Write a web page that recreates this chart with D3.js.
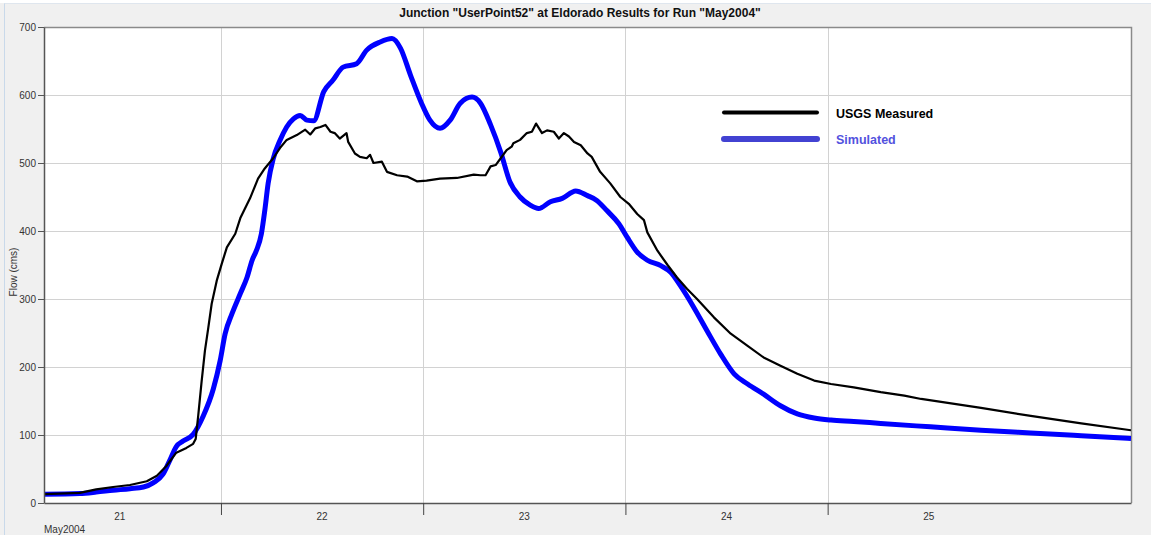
<!DOCTYPE html>
<html>
<head>
<meta charset="utf-8">
<script src="https://cdn.jsdelivr.net/npm/d3@7"></script>
<style>
  body { margin: 0; background: #f0f0f0; }
  svg { display: block; }
  text { font-family: "Liberation Sans", Arial, sans-serif; }
</style>
</head>
<body>
<svg id="chart" width="1151" height="535"></svg>
<script>
// Chart text
const chartTitle = 'Junction "UserPoint52" at Eldorado Results for Run "May2004"';
const yAxisTitle = "Flow (cms)";
const xAxisCaption = "May2004";

// Axis ticks
const flowTicks = [0, 100, 200, 300, 400, 500, 600, 700];
const dayLabels = [21, 22, 23, 24, 25];
const dayBoundaries = [22, 23, 24, 25, 26];

// Series: hours after 2004-05-21 00:00, and flow (cms)
const measuredHours = [3.0, 7.25, 9.2, 11.2, 13.2, 15.2, 16.4, 17.5, 18.7, 19.9, 20.7, 21.0, 21.3, 21.7, 22.1, 22.5, 22.9, 23.5, 24.1, 24.7, 25.7,
  26.3, 27.45, 28.4, 29.2, 30.2, 31.0, 31.8, 33.0, 34.0, 34.6, 35.2, 35.8, 36.4, 37.0, 37.5, 38.1, 38.9, 39.1, 39.9, 40.5, 41.3, 41.7, 42.1, 43.1, 43.7, 44.9, 46.1, 47.25,
  48.4, 50.0, 52.0, 54.0, 54.8, 55.4, 56.0, 56.6, 57.2, 57.9, 58.5, 58.7, 59.5, 60.3, 60.9, 61.4, 62.1, 62.7, 63.5, 64.1, 64.7, 65.3, 65.9, 66.7, 67.5, 68.0,
  69.0, 70.2, 71.4, 72.4, 73.4, 74.2, 74.6, 75.8, 77.0, 78.1, 79.3, 80.5, 82.5, 84.5, 86.5, 88.4, 90.4, 92.4, 94.4, 96.4, 99.1, 102.3, 105.1, 107.1, 114.2, 120.1, 126.1, 132.0];
const measuredFlow = [13, 15, 20, 23.5, 26.5, 32, 40, 54, 74, 81, 87, 94, 128, 178, 224, 258, 293, 327, 352, 376, 396,
  419, 448, 477, 492, 507, 522, 534, 541, 549, 542, 551, 553, 556, 546, 544, 536, 544, 531, 514, 509, 507, 512, 500, 502, 487, 482, 480, 473,
  474, 477, 478, 483, 482, 482, 495, 497, 507, 519, 524, 529, 534, 544, 546, 558, 544, 548, 546, 536, 544, 539, 531, 526, 514, 509,
  487, 470, 450, 440, 425, 416, 398, 371, 350, 332, 315, 300, 273, 249, 231, 214, 202, 190, 180, 175, 170, 163, 158, 153, 140, 128, 117, 107];

const simulatedHours = [3.0, 7.25, 9.2, 11.2, 13.2, 14.8, 16.0, 17.1, 17.9, 18.7, 19.5, 20.7, 21.9, 23.1, 23.9, 24.5, 25.3, 26.3, 27.1, 27.7,
  28.2, 28.8, 29.2, 29.6, 30.2, 31.0, 31.8, 32.6, 33.4, 34.2, 35.0, 36.2, 37.3, 38.5, 40.1, 41.3, 42.9, 44.3, 45.3, 46.5,
  47.8, 48.8, 50.0, 51.2, 52.4, 53.8, 54.8, 56.0, 57.2, 58.3, 59.5, 60.7, 61.7, 63.1, 64.5, 66.1, 67.5, 68.6, 69.8, 71.2,
  72.2, 73.4, 74.6, 76.2, 77.4, 78.5, 80.1, 81.7, 83.3, 84.9, 86.5, 88.4, 90.4, 92.4, 94.4, 96.4, 99.1, 102.3, 108.2, 114.2,
  120.1, 126.1, 132.0];
const simulatedFlow = [13, 14, 16, 18.7, 21, 23.5, 30, 42, 62, 83, 91, 101, 128, 168, 209, 249, 278, 308, 332, 357,
  371, 396, 430, 470, 506, 533, 553, 565, 570, 563, 562, 605, 622, 641, 646, 666, 678, 683, 669, 629,
  588, 563, 551, 563, 588, 597, 588, 556, 516, 472, 450, 438, 433, 443, 448, 459, 452, 445, 430, 411,
  391, 369, 357, 349, 339, 320, 288, 253, 219, 190, 175, 160, 143, 131, 125, 122, 120, 117, 112, 107,
  103, 99, 95];

const seriesNames = ["USGS Measured", "Simulated"];

const base = Date.UTC(2004, 4, 21, 0, 0);
const toDate = h => new Date(base + h * 3600e3);

const svg = d3.select("#chart");
const W = 1151, H = 535;
const plot = { left: 44, right: 1131, top: 27, bottom: 503 };

// Panel frame
svg.append("rect").attr("x", 0).attr("y", 0).attr("width", W).attr("height", 3).attr("fill", "#ffffff");
svg.append("line").attr("x1", 4.5).attr("x2", 4.5).attr("y1", 3).attr("y2", H)
  .attr("stroke", "#c9d9ea").attr("stroke-width", 1);
svg.append("line").attr("x1", 4.5).attr("x2", W).attr("y1", 3.5).attr("y2", 3.5)
  .attr("stroke", "#dfe6ee").attr("stroke-width", 1);

// Title
svg.append("text")
  .attr("x", 580).attr("y", 17)
  .attr("text-anchor", "middle")
  .attr("font-size", 12).attr("font-weight", "bold").attr("fill", "#111")
  .text(chartTitle);

// Scales
const x = d3.scaleUtc()
  .domain([toDate(3), toDate(132)])
  .range([plot.left, plot.right]);
const y = d3.scaleLinear()
  .domain([0, 700])
  .range([plot.bottom, plot.top]);

// Plot background
svg.append("rect")
  .attr("x", plot.left).attr("y", plot.top)
  .attr("width", plot.right - plot.left).attr("height", plot.bottom - plot.top)
  .attr("fill", "#ffffff");

// Grid
const grid = svg.append("g").attr("stroke", "#d2d2d2").attr("stroke-width", 1);
grid.selectAll("line.h").data(flowTicks.slice(1, -1)).join("line")
  .attr("x1", plot.left).attr("x2", plot.right)
  .attr("y1", d => Math.round(y(d)) + 0.5).attr("y2", d => Math.round(y(d)) + 0.5);
grid.selectAll("line.v").data(dayBoundaries.slice(0, -1)).join("line")
  .attr("x1", d => Math.round(x(toDate((d - 21) * 24))) + 0.5)
  .attr("x2", d => Math.round(x(toDate((d - 21) * 24))) + 0.5)
  .attr("y1", plot.top).attr("y2", plot.bottom);

// Plot border (top and right)
svg.append("path")
  .attr("d", `M${plot.left},${plot.top + 0.5}H${plot.right + 0.5}V${plot.bottom}`)
  .attr("fill", "none").attr("stroke", "#8a8a8a").attr("stroke-width", 1.5);

// Series
const measured = measuredHours.map((h, i) => ({ t: toDate(h), v: measuredFlow[i] }));
const simulated = simulatedHours.map((h, i) => ({ t: toDate(h), v: simulatedFlow[i] }));

svg.append("clipPath").attr("id", "plotClip").append("rect")
  .attr("x", plot.left).attr("y", plot.top)
  .attr("width", plot.right - plot.left).attr("height", plot.bottom - plot.top);

const lines = svg.append("g").attr("clip-path", "url(#plotClip)");

lines.append("path")
  .datum(simulated)
  .attr("fill", "none").attr("stroke", "#0000ff").attr("stroke-width", 5)
  .attr("stroke-linejoin", "round")
  .attr("d", d3.line().x(d => x(d.t)).y(d => y(d.v)).curve(d3.curveMonotoneX));

lines.append("path")
  .datum(measured)
  .attr("fill", "none").attr("stroke", "#000000").attr("stroke-width", 2.2)
  .attr("stroke-linejoin", "round")
  .attr("d", d3.line().x(d => x(d.t)).y(d => y(d.v)));

// Y axis
const yAxis = svg.append("g")
  .attr("transform", `translate(${plot.left},0)`)
  .call(d3.axisLeft(y).tickValues(flowTicks).tickSize(6).tickPadding(2).tickSizeOuter(0));
yAxis.select(".domain").attr("stroke", "#555").attr("stroke-width", 1.5);
yAxis.selectAll(".tick line").attr("stroke", "#555");
yAxis.selectAll(".tick text").attr("font-size", 10).attr("fill", "#333")
  .attr("font-family", "'Liberation Sans', Arial, sans-serif");

svg.append("text")
  .attr("transform", "translate(17,272) rotate(-90)")
  .attr("text-anchor", "middle")
  .attr("font-size", 10).attr("fill", "#333")
  .text(yAxisTitle);

// X axis: day boundary ticks, day labels at midday
const xAxis = svg.append("g")
  .attr("transform", `translate(0,${plot.bottom})`)
  .call(d3.axisBottom(x)
    .tickValues(dayBoundaries.slice(0, -1).map(d => toDate((d - 21) * 24)))
    .tickSize(12).tickFormat("").tickSizeOuter(0));
xAxis.select(".domain").attr("stroke", "#555").attr("stroke-width", 1.5);
xAxis.selectAll(".tick line").attr("stroke", "#444");

svg.append("g").selectAll("text").data(dayLabels).join("text")
  .attr("x", d => x(toDate((d - 21) * 24 + 12)))
  .attr("y", 520)
  .attr("text-anchor", "middle")
  .attr("font-size", 10).attr("fill", "#333")
  .text(d => d);

svg.append("text")
  .attr("x", 44).attr("y", 533)
  .attr("font-size", 10).attr("fill", "#333")
  .text(xAxisCaption);

// Legend
const legend = svg.append("g");
const legendStyle = [
  { name: seriesNames[0], stroke: "#000000", width: 4, text: "#000000", yLine: 112.5, yText: 118 },
  { name: seriesNames[1], stroke: "#4242d2", width: 6, text: "#5252de", yLine: 139, yText: 144 }
];
legendStyle.forEach(s => {
  legend.append("line")
    .attr("x1", 724).attr("x2", 817).attr("y1", s.yLine).attr("y2", s.yLine)
    .attr("stroke", s.stroke).attr("stroke-width", s.width).attr("stroke-linecap", "round");
  legend.append("text")
    .attr("x", 836).attr("y", s.yText)
    .attr("font-size", 12.5).attr("font-weight", "bold").attr("fill", s.text)
    .text(s.name);
});
</script>
</body>
</html>
